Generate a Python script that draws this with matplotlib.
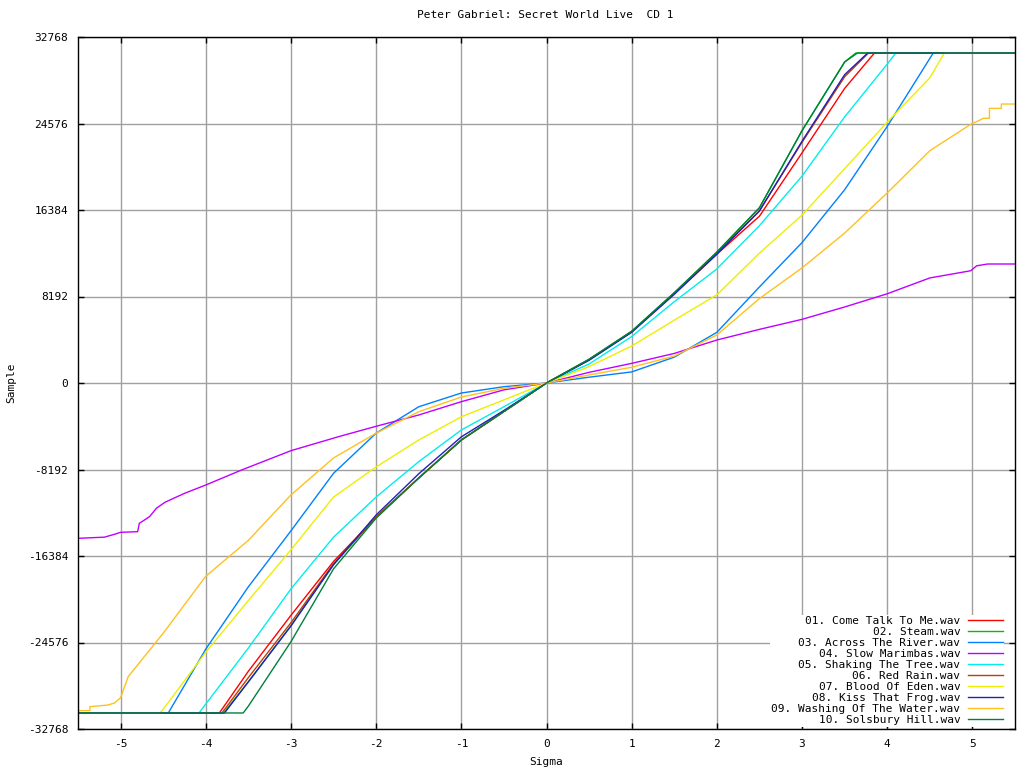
"""
Sample value vs sigma for each track of Secret World Live CD 1
"""

import matplotlib
matplotlib.use("Agg")
import matplotlib.pyplot as plt

TITLE = "Peter Gabriel: Secret World Live  CD 1"
CLIP = 31250

track_names = [
    "01. Come Talk To Me.wav",
    "02. Steam.wav",
    "03. Across The River.wav",
    "04. Slow Marimbas.wav",
    "05. Shaking The Tree.wav",
    "06. Red Rain.wav",
    "07. Blood Of Eden.wav",
    "08. Kiss That Frog.wav",
    "09. Washing Of The Water.wav",
    "10. Solsbury Hill.wav",
]
track_colors = ["#ff0000", "#00c000", "#0080ff", "#c000ff", "#00eeee",
                "#c04000", "#eeee00", "#2020c0", "#ffc020", "#008040"]

# values (sigma, sample)
sig_01 = [-5.5, -3.84, -3.5, -3.0, -2.5, -2.0, -1.5, -1.0, -0.5, 0, 0.5, 1.0, 1.5, 2.0, 2.5, 3.0, 3.5, 3.85, 5.5]
val_01 = [-CLIP, -CLIP, -27300, -22000, -16900, -12700, -9000, -5400, -2700, 0, 2200, 4850, 8450, 12200, 15800, 21800, 27900, CLIP, CLIP]

sig_02 = [-5.5, -3.79, -3.5, -3.0, -2.5, -2.0, -1.5, -1.0, -0.5, 0, 0.5, 1.0, 1.5, 2.0, 2.5, 3.0, 3.5, 3.63, 5.5]
val_02 = [-CLIP, -CLIP, -28300, -23000, -17200, -12700, -9000, -5400, -2700, 0, 2250, 4900, 8550, 12400, 16600, 23900, 30400, CLIP, CLIP]

sig_03 = [-5.5, -4.44, -4.0, -3.5, -3.0, -2.5, -2.0, -1.5, -1.0, -0.5, 0, 0.5, 1.0, 1.5, 2.0, 2.5, 3.0, 3.5, 4.0, 4.54, 5.5]
val_03 = [-CLIP, -CLIP, -25200, -19300, -14000, -8550, -4750, -2250, -950, -350, 0, 550, 1050, 2450, 4800, 9100, 13300, 18300, 24300, CLIP, CLIP]

sig_04 = [-5.5, -5.19, -5.06, -5.0, -4.8, -4.78, -4.66, -4.58, -4.48, -4.25, -4.0, -3.58, -3.0, -2.44, -2.0,
          -1.5, -1.0, -0.5, 0, 0.5, 1.0, 1.5, 2.0, 2.5, 3.0, 3.5, 3.8, 4.0, 4.5, 4.98, 5.05, 5.18, 5.5]
val_04 = [-14710, -14600, -14300, -14140, -14080, -13290, -12660, -11870, -11300, -10450, -9660, -8240, -6410, -5080, -4100,
          -3030, -1770, -650, 0, 1010, 1860, 2800, 4070, 5080, 6030, 7200, 7950, 8450, 9950, 10630, 11100, 11270, 11270]

sig_05 = [-5.5, -4.08, -4.0, -3.5, -3.0, -2.5, -2.0, -1.5, -1.0, -0.5, 0, 0.5, 1.0, 1.5, 2.0, 2.5, 3.0, 3.5, 4.0, 4.1, 5.5]
val_05 = [-CLIP, -CLIP, -30400, -25100, -19500, -14600, -10800, -7450, -4450, -2250, 0, 1800, 4400, 7700, 10800, 14900, 19600, 25200, 30200, CLIP, CLIP]

sig_06 = [-5.5, -3.81, -3.5, -3.0, -2.5, -2.0, -1.5, -1.0, -0.5, 0, 0.5, 1.0, 1.5, 2.0, 2.5, 3.0, 3.5, 3.78, 5.5]
val_06 = [-CLIP, -CLIP, -27900, -22700, -17100, -12700, -9000, -5400, -2700, 0, 2200, 4850, 8500, 12300, 16300, 22800, 29000, CLIP, CLIP]

sig_07 = [-5.5, -4.54, -4.5, -4.0, -3.5, -3.0, -2.5, -2.0, -1.5, -1.0, -0.5, 0, 0.5, 1.0, 1.5, 2.0, 2.5, 3.0, 3.5, 4.0, 4.5, 4.67, 5.5]
val_07 = [-CLIP, -CLIP, -30900, -25500, -20600, -15800, -10800, -7950, -5400, -3200, -1600, 0, 1550, 3500, 5950, 8350, 12300, 15900, 20300, 24700, 28900, CLIP, CLIP]

sig_08 = [-5.5, -3.78, -3.5, -3.0, -2.5, -2.0, -1.5, -1.0, -0.5, 0, 0.5, 1.0, 1.5, 2.0, 2.5, 3.0, 3.5, 3.77, 5.5]
val_08 = [-CLIP, -CLIP, -28300, -23000, -17200, -12500, -8600, -5100, -2600, 0, 2150, 4800, 8400, 12200, 16300, 22900, 29200, CLIP, CLIP]

sig_09 = [-5.5, -5.36, -5.36, -5.15, -5.07, -5.0, -4.91, -4.75, -4.5, -4.0, -3.5, -3.0, -2.5, -2.0, -1.5, -1.0, -0.5, 0,
          0.5, 1.0, 1.5, 2.0, 2.5, 3.0, 3.5, 4.0, 4.5, 5.0, 5.05, 5.13, 5.2, 5.2, 5.34, 5.34, 5.5]
val_09 = [-31030, -31030, -30650, -30500, -30300, -29800, -27800, -26200, -23700, -18300, -14900, -10600, -7100, -4750, -2720, -1330, -500, 0,
          760, 1490, 2550, 4550, 8000, 10900, 14200, 18000, 22000, 24600, 24750, 25070, 25070, 26010, 26010, 26420, 26420]

sig_10 = [-5.5, -3.56, -3.5, -3.0, -2.5, -2.0, -1.5, -1.0, -0.5, 0, 0.5, 1.0, 1.5, 2.0, 2.5, 3.0, 3.5, 3.65, 5.5]
val_10 = [-CLIP, -CLIP, -30600, -24500, -17600, -12800, -9000, -5400, -2700, 0, 2250, 4900, 8550, 12400, 16600, 23900, 30400, CLIP, CLIP]

sigmas = [sig_01, sig_02, sig_03, sig_04, sig_05, sig_06, sig_07, sig_08, sig_09, sig_10]
values = [val_01, val_02, val_03, val_04, val_05, val_06, val_07, val_08, val_09, val_10]

x_ticks = [-5, -4, -3, -2, -1, 0, 1, 2, 3, 4, 5]
y_ticks = [-32768, -24576, -16384, -8192, 0, 8192, 16384, 24576, 32768]

FONT = "DejaVu Sans Mono"
FS = 8

fig = plt.figure(figsize=(10.24, 7.68), dpi=100)
ax = fig.add_axes([78 / 1024, 1 - 729 / 768, 937 / 1024, 692 / 768])

for s, v, name, col in zip(sigmas, values, track_names, track_colors):
    ax.plot(s, v, color=col, lw=1.0, label=name)

ax.set_xlim(-5.5, 5.5)
ax.set_ylim(-32768, 32768)
ax.set_xticks(x_ticks)
ax.set_yticks(y_ticks)
ax.set_xticklabels([str(t) for t in x_ticks], fontfamily=FONT, fontsize=FS)
ax.set_yticklabels([str(t) for t in y_ticks], fontfamily=FONT, fontsize=FS)
ax.tick_params(direction="in", length=4.5, width=1, top=True, right=True, pad=7)
ax.grid(True, color="#a0a0a0", lw=1.0)
ax.set_axisbelow(True)
for sp in ax.spines.values():
    sp.set_linewidth(1.0)

leg = ax.legend(loc="lower right", bbox_to_anchor=(0.9885, 0.003), markerfirst=False,
                prop={"family": FONT, "size": FS}, frameon=True, fancybox=False,
                handlelength=3.1, handletextpad=0.7, labelspacing=0.09,
                borderpad=0.15, borderaxespad=0.0)
leg.get_frame().set_edgecolor("none")
leg.get_frame().set_facecolor("white")
leg.get_frame().set_alpha(1.0)
for t in leg.get_texts():
    t.set_ha("right")
leg._legend_box.align = "right"

fig.text(545 / 1024, 1 - 15 / 768, TITLE, ha="center", va="center", fontfamily=FONT, fontsize=FS)
fig.text(546 / 1024, 1 - 762 / 768, "Sigma", ha="center", va="center", fontfamily=FONT, fontsize=FS)
fig.text(11 / 1024, 1 - 383 / 768, "Sample", ha="center", va="center", rotation=90, fontfamily=FONT, fontsize=FS)

fig.savefig("out.png", dpi=100)
